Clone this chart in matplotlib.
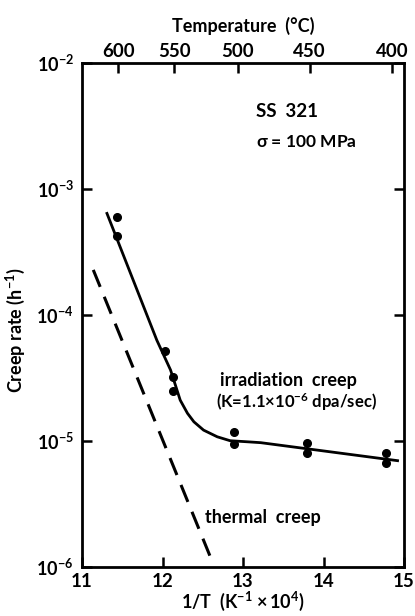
import numpy as np
import matplotlib
matplotlib.use("Agg")
import matplotlib.pyplot as plt

plt.rcParams['font.family'] = ['Lato', 'DejaVu Sans']
plt.rcParams['font.weight'] = 'bold'
plt.rcParams['axes.labelweight'] = 'bold'
plt.rcParams['mathtext.fontset'] = 'custom'
plt.rcParams['mathtext.rm'] = 'Lato:bold'
plt.rcParams['mathtext.bf'] = 'Lato:bold'
plt.rcParams['mathtext.it'] = 'Lato:bold'
plt.rcParams['mathtext.default'] = 'bf'

# measured creep rates (1/T in 1e-4/K, rate in 1/h)
inv_T_pts = [11.44, 11.43, 12.03, 12.13, 12.13, 12.89, 12.89, 13.80, 13.80, 14.78, 14.78]
rate_pts = [6.0e-4, 4.2e-4, 5.2e-5, 3.2e-5, 2.5e-5, 1.17e-5, 9.4e-6, 9.7e-6, 8.0e-6, 8.0e-6, 6.7e-6]

# irradiation creep curve
irr_x = [11.31, 11.93, 12.10, 12.16, 12.22, 12.31, 12.39, 12.51, 12.68, 12.84, 13.05, 13.22, 14.92]
irr_y = [6.4e-4, 6.3e-5, 3.66e-5, 2.78e-5, 2.11e-5, 1.66e-5, 1.42e-5, 1.22e-5, 1.08e-5, 1.005e-5, 9.86e-6, 9.7e-6, 6.98e-6]

# thermal creep (dashed)
th_x = [11.14, 12.595]
th_y = [2.28e-4, 1.2e-6]

temp_ticks = [600, 550, 500, 450, 400]
x_ticks = [11, 12, 13, 14, 15]
y_ticks = [1e-6, 1e-5, 1e-4, 1e-3, 1e-2]

fig = plt.figure(figsize=(4.15, 6.16), dpi=100)
ax = fig.add_axes([82/415, 49/616, 322/415, 504/616])

ax.plot(irr_x, irr_y, color='black', lw=2.0)
ax.plot(th_x, th_y, color='black', lw=2.2, dashes=(6, 3.5))
ax.plot(inv_T_pts, rate_pts, 'o', color='black', ms=5.5)

ax.set_yscale('log')
ax.set_xlim(11, 15)
ax.set_ylim(1e-6, 1e-2)
ax.set_xticks(x_ticks)
ax.set_xticklabels([str(v) for v in x_ticks], fontsize=13.5)
ax.set_yticks(y_ticks)
ax.set_yticklabels([r'$10^{%d}$' % int(np.log10(v)) for v in y_ticks], fontsize=13)
ax.minorticks_off()
ax.tick_params(axis='both', direction='in', length=7, width=1.8, right=True, top=False)
ax.tick_params(axis='x', pad=4)
ax.tick_params(axis='y', pad=6)
for s in ax.spines.values():
    s.set_linewidth(2)

ax.set_xlabel(r'1/T  (K$^{-1}$ $\times\,$10$^{4}$)', fontsize=13, labelpad=0)
ax.set_ylabel(r'Creep rate (h$^{-1}$)', fontsize=13)
ax.yaxis.set_label_coords(-0.17, 0.47)

def to_c(x):
    return 1e4 / np.asarray(x, dtype=float) - 273.15

def to_inv(t):
    return 1e4 / (np.asarray(t, dtype=float) + 273.15)

top = ax.secondary_xaxis('top', functions=(to_c, to_inv))
top.set_xticks(temp_ticks)
top.set_xticklabels([str(t) for t in temp_ticks], fontsize=13.5)
top.tick_params(direction='in', length=7, width=1.8, pad=2)
top.minorticks_off()
top.set_xlabel('Temperature  (°C)', fontsize=13, labelpad=8, fontweight='bold')

ax.text(13.16, 4.1e-3, 'SS  321', fontsize=13.5, va='center')
ax.text(13.16, 2.36e-3, r'$\sigma$ = 100 MPa', fontsize=12.5, va='center')
ax.text(12.72, 3.0e-5, 'irradiation  creep', fontsize=13, va='center')
ax.text(12.66, 2.04e-5, r'(K=1.1$\times$10$^{-6}$ dpa/sec)', fontsize=12, va='center')
ax.text(12.53, 2.45e-6, 'thermal  creep', fontsize=13, va='center')

fig.savefig('out.png', dpi=100)
